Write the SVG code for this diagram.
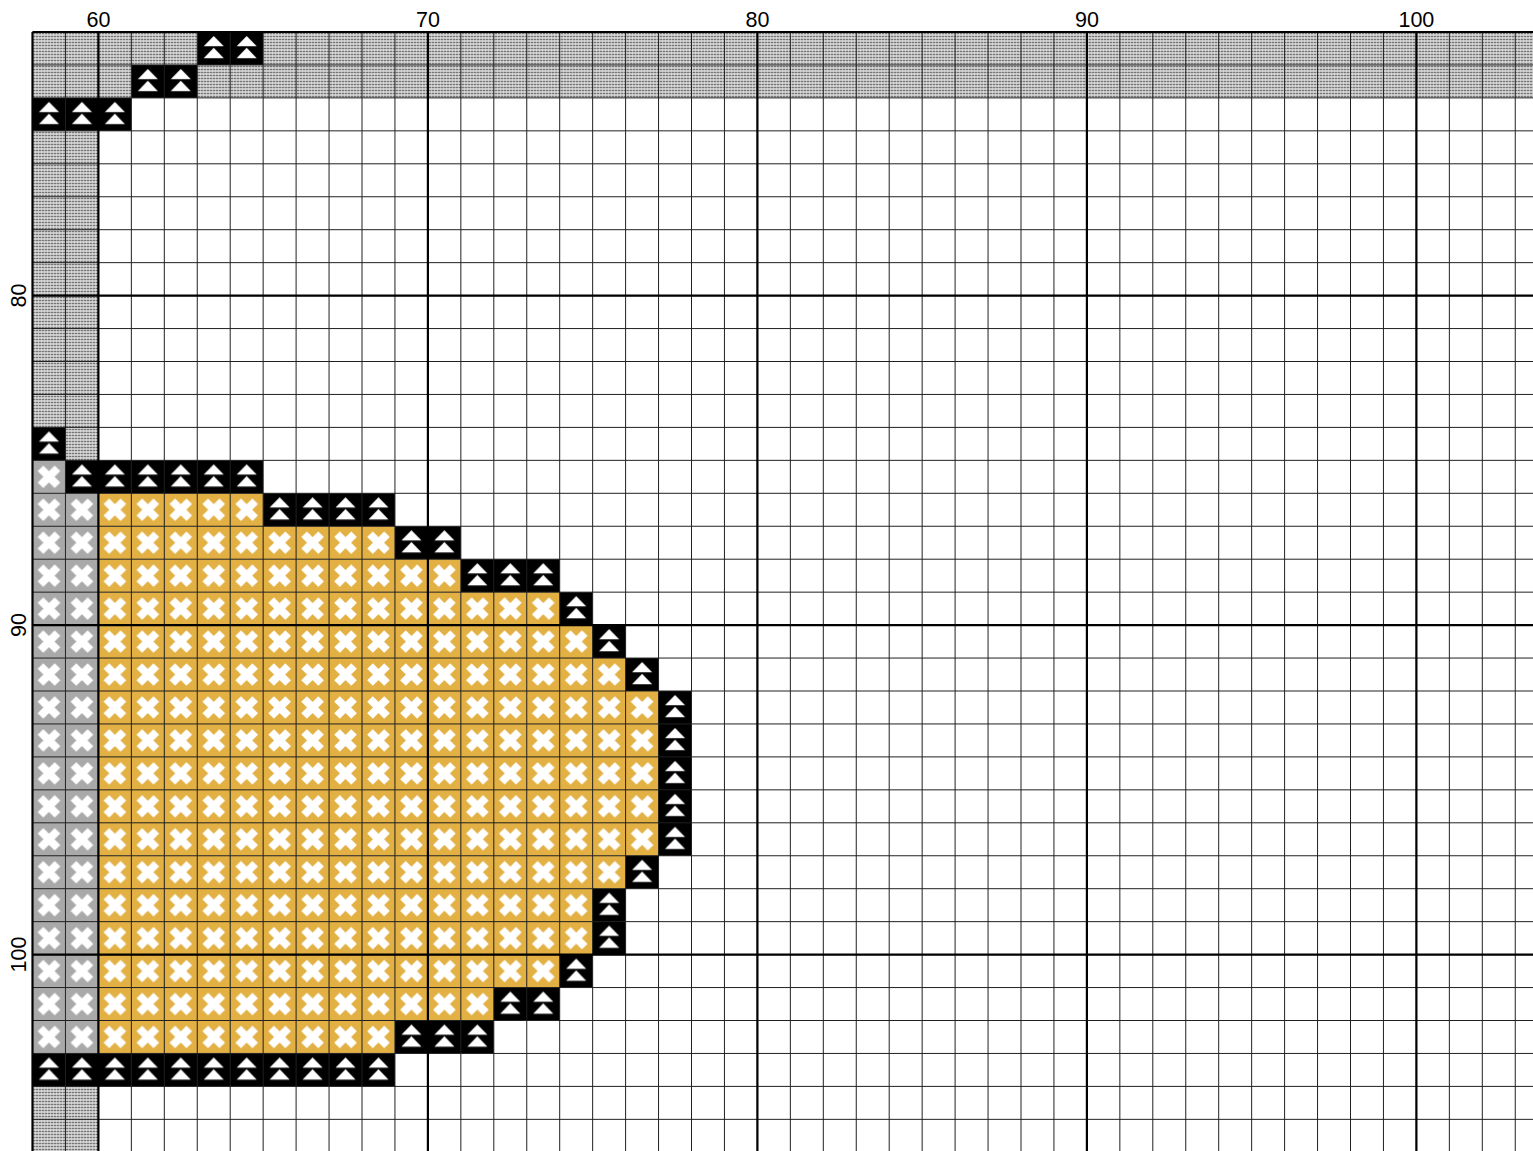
<svg xmlns="http://www.w3.org/2000/svg" width="1533" height="1151" viewBox="0 0 1533 1151">
  <style>
    .lbl { font-family: "Liberation Sans", Arial, sans-serif; font-size: 21.5px; fill: #000; text-anchor: middle; }
    .thin { fill: none; stroke: #202020; stroke-width: 1; }
    .thick { fill: none; stroke: #000; stroke-width: 2.2; }
    .xm { stroke: #fff; stroke-width: 8; fill: none; }
  </style>
  <defs>
    <pattern id="pDot" patternUnits="userSpaceOnUse" width="3" height="3" x="32.5" y="32">
      <rect width="3" height="3" fill="#e6e6e6"/>
      <rect x="0.7" y="0.7" width="1.6" height="1.6" fill="#3a3a3a"/>
    </pattern>
    <pattern id="pY" patternUnits="userSpaceOnUse" x="32.5" y="32" width="32.95" height="32.95">
      <rect width="32.95" height="32.95" fill="#e2b043"/>
      <path class="xm" d="M8 8L25 25M25 8L8 25"/>
    </pattern>
    <pattern id="pG" patternUnits="userSpaceOnUse" x="32.5" y="32" width="32.95" height="32.95">
      <rect width="32.95" height="32.95" fill="#a9a9a9"/>
      <path class="xm" d="M8 8L25 25M25 8L8 25"/>
    </pattern>
    <pattern id="pA" patternUnits="userSpaceOnUse" x="32.5" y="32" width="32.95" height="32.95">
      <rect width="32.95" height="32.95" fill="#000"/>
      <path d="M16.5 4L26.5 14.2H6.5Z M16.5 15.8L26.5 26.2H6.5Z" fill="#fff"/>
    </pattern>
  </defs>

  <rect width="1533" height="1151" fill="#fff"/>

  <g id="background-texture" fill="url(#pDot)">
    <rect x="32.5" y="32" width="1501" height="65.9"/>
    <rect x="32.5" y="130.85" width="65.9" height="296.55"/>
    <rect x="65.45" y="427.4" width="32.95" height="32.95"/>
    <rect x="32.5" y="1086.4" width="65.9" height="65"/>
  </g>

  <g id="gray-stitches" fill="url(#pG)">
    <rect x="32.5" y="460.35" width="32.95" height="593.1"/>
    <rect x="65.45" y="493.3" width="32.95" height="560.15"/>
  </g>

  <g id="yellow-stitches" fill="url(#pY)">
    <rect x="98.4" y="493.3" width="164.75" height="32.95"/>
    <rect x="98.4" y="526.25" width="296.55" height="32.95"/>
    <rect x="98.4" y="559.2" width="362.45" height="32.95"/>
    <rect x="98.4" y="592.15" width="461.3" height="32.95"/>
    <rect x="98.4" y="625.1" width="494.25" height="32.95"/>
    <rect x="98.4" y="658.05" width="527.2" height="32.95"/>
    <rect x="98.4" y="691" width="560.15" height="164.75"/>
    <rect x="98.4" y="855.75" width="527.2" height="32.95"/>
    <rect x="98.4" y="888.7" width="494.25" height="65.9"/>
    <rect x="98.4" y="954.6" width="461.3" height="32.95"/>
    <rect x="98.4" y="987.55" width="395.4" height="32.95"/>
    <rect x="98.4" y="1020.5" width="296.55" height="32.95"/>
  </g>

  <g id="black-stitches" fill="url(#pA)">
    <rect x="197.25" y="32" width="65.9" height="32.95"/>
    <rect x="131.35" y="64.95" width="65.9" height="32.95"/>
    <rect x="32.5" y="97.9" width="98.85" height="32.95"/>
    <rect x="32.5" y="427.4" width="32.95" height="32.95"/>
    <rect x="65.45" y="460.35" width="197.7" height="32.95"/>
    <rect x="263.15" y="493.3" width="131.8" height="32.95"/>
    <rect x="394.95" y="526.25" width="65.9" height="32.95"/>
    <rect x="460.85" y="559.2" width="98.85" height="32.95"/>
    <rect x="559.7" y="592.15" width="32.95" height="32.95"/>
    <rect x="592.65" y="625.1" width="32.95" height="32.95"/>
    <rect x="625.6" y="658.05" width="32.95" height="32.95"/>
    <rect x="658.55" y="691" width="32.95" height="164.75"/>
    <rect x="625.6" y="855.75" width="32.95" height="32.95"/>
    <rect x="592.65" y="888.7" width="32.95" height="65.9"/>
    <rect x="559.7" y="954.6" width="32.95" height="32.95"/>
    <rect x="493.8" y="987.55" width="65.9" height="32.95"/>
    <rect x="394.95" y="1020.5" width="98.85" height="32.95"/>
    <rect x="32.5" y="1053.45" width="362.45" height="32.95"/>
  </g>

  <g id="grid" transform="translate(32.5 32) scale(32.95)">
    <path class="thin" vector-effect="non-scaling-stroke" d="M0 0V34M1 0V34M2 0V34M3 0V34M4 0V34M5 0V34M6 0V34M7 0V34M8 0V34M9 0V34M10 0V34M11 0V34M12 0V34M13 0V34M14 0V34M15 0V34M16 0V34M17 0V34M18 0V34M19 0V34M20 0V34M21 0V34M22 0V34M23 0V34M24 0V34M25 0V34M26 0V34M27 0V34M28 0V34M29 0V34M30 0V34M31 0V34M32 0V34M33 0V34M34 0V34M35 0V34M36 0V34M37 0V34M38 0V34M39 0V34M40 0V34M41 0V34M42 0V34M43 0V34M44 0V34M45 0V34M0 0H47M0 1H47M0 2H47M0 3H47M0 4H47M0 5H47M0 6H47M0 7H47M0 8H47M0 9H47M0 10H47M0 11H47M0 12H47M0 13H47M0 14H47M0 15H47M0 16H47M0 17H47M0 18H47M0 19H47M0 20H47M0 21H47M0 22H47M0 23H47M0 24H47M0 25H47M0 26H47M0 27H47M0 28H47M0 29H47M0 30H47M0 31H47M0 32H47M0 33H47M0 34H47"/>
    <path class="thick" vector-effect="non-scaling-stroke" d="M2 0V34M12 0V34M22 0V34M32 0V34M42 0V34M0 8H47M0 18H47M0 28H47M0 0H47M0 0V34"/>
  </g>

  <g id="labels">
    <text class="lbl" x="98.4" y="26.5">60</text>
    <text class="lbl" x="427.9" y="26.5">70</text>
    <text class="lbl" x="757.4" y="26.5">80</text>
    <text class="lbl" x="1086.9" y="26.5">90</text>
    <text class="lbl" x="1416.4" y="26.5">100</text>
    <text class="lbl" x="26.5" y="295.6" transform="rotate(-90 26.5 295.6)">80</text>
    <text class="lbl" x="26.5" y="625.1" transform="rotate(-90 26.5 625.1)">90</text>
    <text class="lbl" x="26.5" y="954.6" transform="rotate(-90 26.5 954.6)">100</text>
  </g>
</svg>
